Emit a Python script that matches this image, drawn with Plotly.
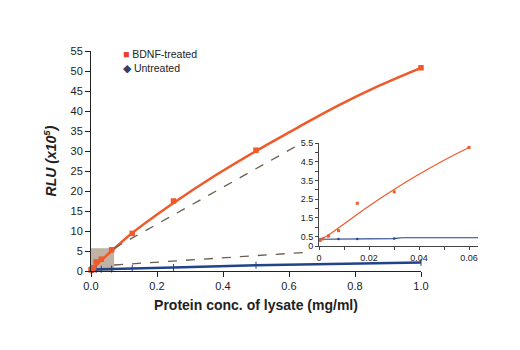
import plotly.graph_objects as go

# ---- data ----
conc = [0, 0.00195, 0.0039, 0.0078, 0.0156, 0.03125, 0.0625, 0.125, 0.25, 0.5, 1.0]
bdnf = [0.3, 0.35, 0.53, 0.82, 2.28, 2.95, 5.3, 9.4, 17.5, 30.2, 50.8]
untreated = [0.3, 0.33, 0.35, 0.37, 0.4, 0.45, 0.5, 0.65, 0.9, 1.45, 2.15]

fit_x = [0, 0.0625, 0.125, 0.25, 0.375, 0.5, 0.625, 0.75, 0.875, 1.0]
fit_bdnf = [0.3, 5.0, 9.5, 17.0, 23.8, 30.0, 35.8, 41.4, 46.4, 50.8]

inset_x = [0.0005, 0.0015, 0.0038, 0.0078, 0.0153, 0.0301, 0.06]
inset_bdnf = [0.3, 0.38, 0.53, 0.82, 2.28, 2.89, 5.26]
inset_fit_x = [0, 0.005, 0.01, 0.02, 0.03, 0.04, 0.05, 0.06]
inset_fit_bdnf = [0.3, 0.7, 1.18, 2.14, 3.02, 3.83, 4.58, 5.26]
inset_unt_x = [0.0005, 0.0078, 0.0153, 0.0301]
inset_unt = [0.35, 0.38, 0.38, 0.4]
inset_unt_line_x = [0, 0.03, 0.033, 0.0636]
inset_unt_line = [0.36, 0.39, 0.44, 0.44]

main_yticks = list(range(0, 56, 5))
main_xticks = [0, 0.2, 0.4, 0.6, 0.8, 1.0]
inset_yticks = [0, 0.5, 1.5, 2.5, 3.5, 4.5, 5.5]
inset_yminor = [1, 2, 3, 4, 5]
inset_xticks = [0, 0.02, 0.04, 0.06]
inset_xlabels = ["0", "0.02", "0.04", "0.06"]
inset_xminor = [0.01, 0.03, 0.05]

ORANGE = "#ef5a2a"
NAVY = "#22428a"
FONT = "Liberation Sans, Arial, sans-serif"
NARROW = "Liberation Sans Narrow, Arial Narrow, Liberation Sans, sans-serif"

fig = go.Figure()

# main chart
fig.add_trace(go.Scatter(x=conc, y=untreated, mode="lines+markers",
                         line=dict(color=NAVY, width=2.5),
                         marker=dict(symbol="line-ns-open", size=5, color=NAVY, line=dict(width=1, color=NAVY)),
                         cliponaxis=False, showlegend=False))
fig.add_trace(go.Scatter(x=fit_x, y=fit_bdnf, mode="lines", line=dict(color=ORANGE, width=2.5, shape="spline"),
                         cliponaxis=False, showlegend=False))
fig.add_trace(go.Scatter(x=conc, y=bdnf, mode="markers",
                         marker=dict(symbol="square", size=5.5, color=ORANGE),
                         cliponaxis=False, showlegend=False))

# inset
fig.add_trace(go.Scatter(x=inset_unt_line_x, y=inset_unt_line, mode="lines", xaxis="x2", yaxis="y2",
                         line=dict(color=NAVY, width=1.2), showlegend=False))
fig.add_trace(go.Scatter(x=inset_unt_x, y=inset_unt, mode="markers", xaxis="x2", yaxis="y2",
                         marker=dict(symbol="circle", size=2.5, color=NAVY), showlegend=False))
fig.add_trace(go.Scatter(x=inset_fit_x, y=inset_fit_bdnf, mode="lines", xaxis="x2", yaxis="y2",
                         line=dict(color=ORANGE, width=1.2, shape="spline", smoothing=1.0), showlegend=False))
fig.add_trace(go.Scatter(x=inset_x, y=inset_bdnf, mode="markers", xaxis="x2", yaxis="y2",
                         marker=dict(symbol="square", size=3, color=ORANGE), cliponaxis=False, showlegend=False))

# shaded zoom box and connecting dashed lines
fig.add_shape(type="rect", xref="x", yref="y", x0=0, x1=0.07, y0=0, y1=5.7,
              fillcolor="rgba(150,128,105,0.6)", line=dict(width=0), layer="below")
fig.add_shape(type="line", xref="x", yref="y", x0=0.07, y0=5.7, x1=0.639, y1=32,
              line=dict(color="#6b5d50", width=1.3, dash="dash"))
fig.add_shape(type="line", xref="x", yref="y", x0=0.07, y0=1.5, x1=0.667, y1=4.75,
              line=dict(color="#6b5d50", width=1.3, dash="dash"))

# legend (manual)
fig.add_annotation(xref="paper", yref="paper", x=121 / 520, y=1 - 54 / 350, xanchor="left", yanchor="middle",
                   text="<span style='color:#e8402a'>■</span> BDNF-treated", showarrow=False,
                   font=dict(family=FONT, size=10.5, color="#222"))
fig.add_annotation(xref="paper", yref="paper", x=121 / 520, y=1 - 68 / 350, xanchor="left", yanchor="middle",
                   text="<span style='color:#3b3d63'>◆</span> Untreated", showarrow=False,
                   font=dict(family=FONT, size=10.5, color="#222"))

axis_common = dict(showgrid=False, zeroline=False, showline=True, automargin=False, ticks="outside")

fig.update_layout(
    width=520, height=350,
    margin=dict(l=0, r=0, t=0, b=0),
    paper_bgcolor="white", plot_bgcolor="white",
    font=dict(family=FONT, size=11, color="#222"),
    xaxis=dict(domain=[91 / 520, 421 / 520], range=[0, 1.0], tickvals=main_xticks, tickformat=".1f",
               linecolor="#222", linewidth=1, ticklen=5, tickcolor="#222", tickfont=dict(size=11),
               title=dict(text="<b>Protein conc. of lysate (mg/ml)</b>", font=dict(size=14), standoff=8),
               anchor="y", **axis_common),
    yaxis=dict(domain=[1 - 271 / 350, 1 - 51 / 350], range=[0, 55], tickvals=main_yticks,
               linecolor="#222", linewidth=1, ticklen=5, tickcolor="#222", tickfont=dict(size=11),
               title=dict(text="<b><i>RLU (x10<sup>5</sup>)</i></b>", font=dict(size=14), standoff=10),
               anchor="x", **axis_common),
    xaxis2=dict(domain=[319 / 520, 478 / 520], range=[0, 0.0636], tickvals=inset_xticks, ticktext=inset_xlabels,
                linecolor="#444", linewidth=1, ticklen=3, tickcolor="#444", tickfont=dict(family=NARROW, size=9),
                minor=dict(tickvals=inset_xminor, ticklen=3, ticks="outside", tickcolor="#444"),
                anchor="y2", **axis_common),
    yaxis2=dict(domain=[1 - 246 / 350, 1 - 143 / 350], range=[0, 5.5], tickvals=inset_yticks,
                linecolor="#444", linewidth=1, ticklen=3, tickcolor="#444", tickfont=dict(family=NARROW, size=9),
                minor=dict(tickvals=inset_yminor, ticklen=3, ticks="outside", tickcolor="#444"),
                anchor="x2", **axis_common),
)

fig.write_html("out.html")
